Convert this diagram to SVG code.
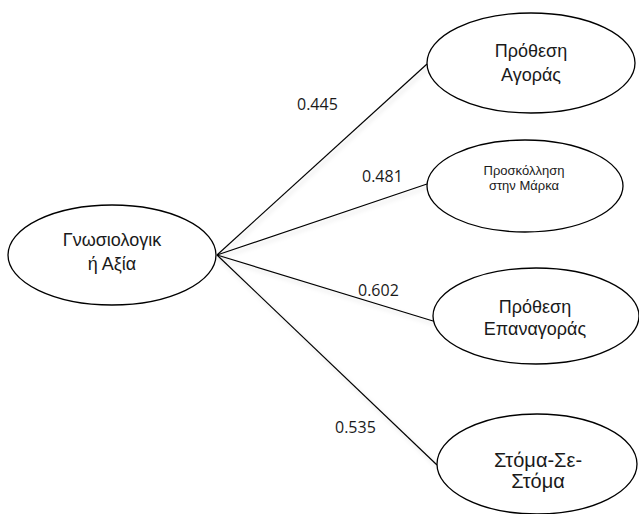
<svg xmlns="http://www.w3.org/2000/svg" width="639" height="514" viewBox="0 0 639 514">
<defs>
<filter id="sh" x="-10%" y="-10%" width="120%" height="120%">
<feDropShadow dx="2" dy="3" stdDeviation="2" flood-color="#000" flood-opacity="0.15"/>
</filter>
<style>
.node ellipse{fill:#fff;stroke:#000;stroke-width:1.3}
.t{font-family:"Liberation Sans",Arial,sans-serif;fill:#1a1a1a;text-anchor:middle}
.lbl{font-family:"Open Sans","Liberation Sans",sans-serif;font-size:16px;fill:#1a1a1a}
.edges line{stroke:#000;stroke-width:1.2;filter:url(#sh)}
</style>
</defs>
<rect width="639" height="514" fill="#fff"/>
<g class="edges" id="connectors">
<line x1="217" y1="255" x2="427" y2="64"/>
<line x1="217" y1="255" x2="427" y2="184"/>
<line x1="217" y1="255" x2="433" y2="321"/>
<line x1="217" y1="255" x2="437" y2="465"/>
</g>
<g id="labels">
<text class="lbl" x="297" y="110">0.445</text>
<text class="lbl" x="362" y="182">0.481</text>
<text class="lbl" x="358" y="296">0.602</text>
<text class="lbl" x="335" y="433">0.535</text>
</g>
<g class="node" id="n-gnosiologiki">
<ellipse cx="112" cy="255" rx="104" ry="50"/>
<text class="t" x="112" y="246" font-size="18">Γνωσιολογικ</text>
<text class="t" x="112" y="270" font-size="18">ή Αξία</text>
</g>
<g class="node" id="n-prothesi-agoras">
<ellipse cx="531" cy="63" rx="104" ry="50"/>
<text class="t" x="531" y="57" font-size="18">Πρόθεση</text>
<text class="t" x="531" y="81" font-size="18">Αγοράς</text>
</g>
<g class="node" id="n-proskollisi">
<ellipse cx="525" cy="186" rx="98" ry="46"/>
<text class="t" x="524" y="175" font-size="13">Προσκόλληση</text>
<text class="t" x="524" y="190" font-size="13">στην Μάρκα</text>
</g>
<g class="node" id="n-prothesi-epanagoras">
<ellipse cx="536" cy="316" rx="103" ry="48"/>
<text class="t" x="535" y="313" font-size="18">Πρόθεση</text>
<text class="t" x="535" y="335" font-size="18">Επαναγοράς</text>
</g>
<g class="node" id="n-stoma">
<ellipse cx="537" cy="464" rx="100" ry="50"/>
<text class="t" x="538" y="467" font-size="20">Στόμα-Σε-</text>
<text class="t" x="538" y="488" font-size="20">Στόμα</text>
</g>
</svg>
